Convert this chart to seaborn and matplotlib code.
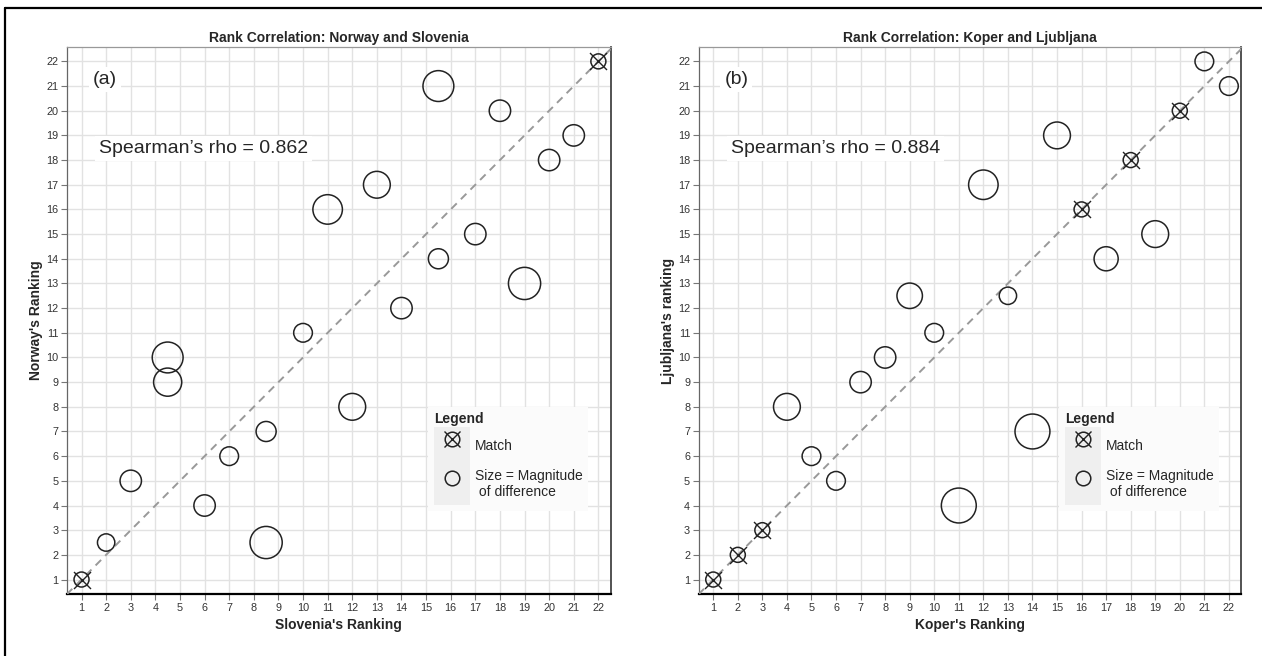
import pandas as pd
import matplotlib.pyplot as plt
import seaborn as sns
from matplotlib.lines import Line2D
from matplotlib.patches import Rectangle

# panel (a): Slovenia vs Norway ranks
slovenia = [1, 2, 3, 4.5, 4.5, 6, 7, 8.5, 8.5, 10, 11, 12, 13, 14, 15.5, 15.5, 17, 18, 19, 20, 21, 22]
norway = [1, 2.5, 5, 10, 9, 4, 6, 7, 2.5, 11, 16, 8, 17, 12, 21, 14, 15, 20, 13, 18, 19, 22]

# panel (b): Koper vs Ljubljana ranks
koper = [1, 2, 3, 4, 5, 6, 7, 8, 9, 10, 11, 12, 13, 14, 15, 16, 17, 18, 19, 20, 21, 22]
ljubljana = [1, 2, 3, 8, 6, 5, 9, 10, 12.5, 11, 4, 17, 12.5, 7, 19, 16, 14, 18, 15, 20, 22, 21]

ticks = list(range(1, 23))
titles = ["Rank Correlation: Norway and Slovenia", "Rank Correlation: Koper and Ljubljana"]
xlabels = ["Slovenia's Ranking", "Koper's Ranking"]
ylabels = ["Norway's Ranking", "Ljubljana's ranking"]
rhos = ["0.862", "0.884"]
tags = ["(a)", "(b)"]

sns.set_style("white")
plt.rcParams['font.family'] = ['Liberation Sans', 'DejaVu Sans']

INK = "#222222"


def px2s(d):
    # marker diameter in pixels -> scatter size in points^2 (dpi 100)
    return (d * 0.72) ** 2


def draw_panel(ax, x, y, title, xlabel, ylabel, rho, tag):
    df = pd.DataFrame({"x": x, "y": y})
    df["diff"] = (df["x"] - df["y"]).abs()
    match = df[df["diff"] == 0]
    other = df[df["diff"] > 0]

    sizes = {d: px2s(16 + 2.7 * d) for d in other["diff"].unique()}
    sns.scatterplot(data=other, x="x", y="y", size="diff", sizes=sizes,
                    facecolor="none", edgecolor=INK, linewidth=1.1,
                    legend=False, ax=ax, zorder=4)
    sns.scatterplot(data=match, x="x", y="y", s=px2s(15),
                    facecolor="none", edgecolor=INK, linewidth=1.1,
                    legend=False, ax=ax, zorder=4)
    sns.scatterplot(data=match, x="x", y="y", marker="x", s=px2s(17),
                    color=INK, linewidth=1.0, legend=False, ax=ax, zorder=4)

    ax.axline((1, 1), slope=1, color="#999999", ls=(0, (4, 3)), lw=1.4, zorder=3)

    ax.set_xlim(0.4, 22.5)
    ax.set_ylim(0.4, 22.6)
    ax.set_xticks(ticks)
    ax.set_yticks(ticks)
    ax.grid(True, color="#e2e2e2", lw=1.0)
    ax.set_axisbelow(True)
    ax.tick_params(length=4, width=0.8, color="#777777", labelsize=7.8, pad=2,
                   labelcolor="#333333", bottom=True, left=True)

    ax.spines["bottom"].set_color("black")
    ax.spines["bottom"].set_linewidth(1.6)
    ax.spines["left"].set_color("#666666")
    ax.spines["left"].set_linewidth(0.9)
    ax.spines["top"].set_color("#999999")
    ax.spines["top"].set_linewidth(0.9)
    ax.spines["right"].set_color("#444444")
    ax.spines["right"].set_linewidth(1.3)

    ax.set_title(title, fontsize=10, fontweight="bold", pad=3)
    ax.set_xlabel(xlabel, fontsize=10, fontweight="bold", labelpad=4)
    ax.set_ylabel(ylabel, fontsize=10, fontweight="bold", labelpad=2)

    box = dict(facecolor="white", edgecolor="none", pad=3)
    ax.text(1.45, 21.25, tag, fontsize=14, ha="left", va="center", bbox=box, zorder=5)
    ax.text(1.72, 18.46, f"Spearman\u2019s rho = {rho}", fontsize=14,
            ha="left", va="center", bbox=box, zorder=5)

    bg = Rectangle((0, 0), 1, 1, facecolor="#efefef", edgecolor="none")
    ring = Line2D([], [], ls="none", marker="o", ms=10.5, mfc="none", mec=INK, mew=1.1)
    cross = Line2D([], [], ls="none", marker="x", ms=12, mec=INK, mew=1.0)
    leg = ax.legend([(bg, ring, cross), (bg, ring)],
                    ["Match", "Size = Magnitude\n of difference"],
                    title="Legend", loc="upper left", bbox_to_anchor=(0.652, 0.355),
                    fontsize=10, title_fontproperties={"weight": "bold", "size": 10},
                    handlelength=2.6, handleheight=3.9, handletextpad=0.35,
                    labelspacing=0.05, borderpad=0.4, alignment="left",
                    frameon=True, facecolor="#fbfbfb", edgecolor="none",
                    framealpha=1, fancybox=False)
    leg.set_zorder(6)


fig = plt.figure(figsize=(12.62, 6.56), dpi=100)
ax1 = fig.add_axes([0.0529, 0.094, 0.431, 0.835])
ax2 = fig.add_axes([0.5535, 0.094, 0.430, 0.835])

draw_panel(ax1, slovenia, norway, titles[0], xlabels[0], ylabels[0], rhos[0], tags[0])
draw_panel(ax2, koper, ljubljana, titles[1], xlabels[1], ylabels[1], rhos[1], tags[1])

# outer frame of the figure (top and left edges visible)
fig.add_artist(Line2D([5 / 1262, 1], [1 - 8 / 656, 1 - 8 / 656], color="black", lw=1.6))
fig.add_artist(Line2D([5 / 1262, 5 / 1262], [0, 1 - 8 / 656], color="black", lw=1.6))

fig.savefig("out.png", dpi=100)
